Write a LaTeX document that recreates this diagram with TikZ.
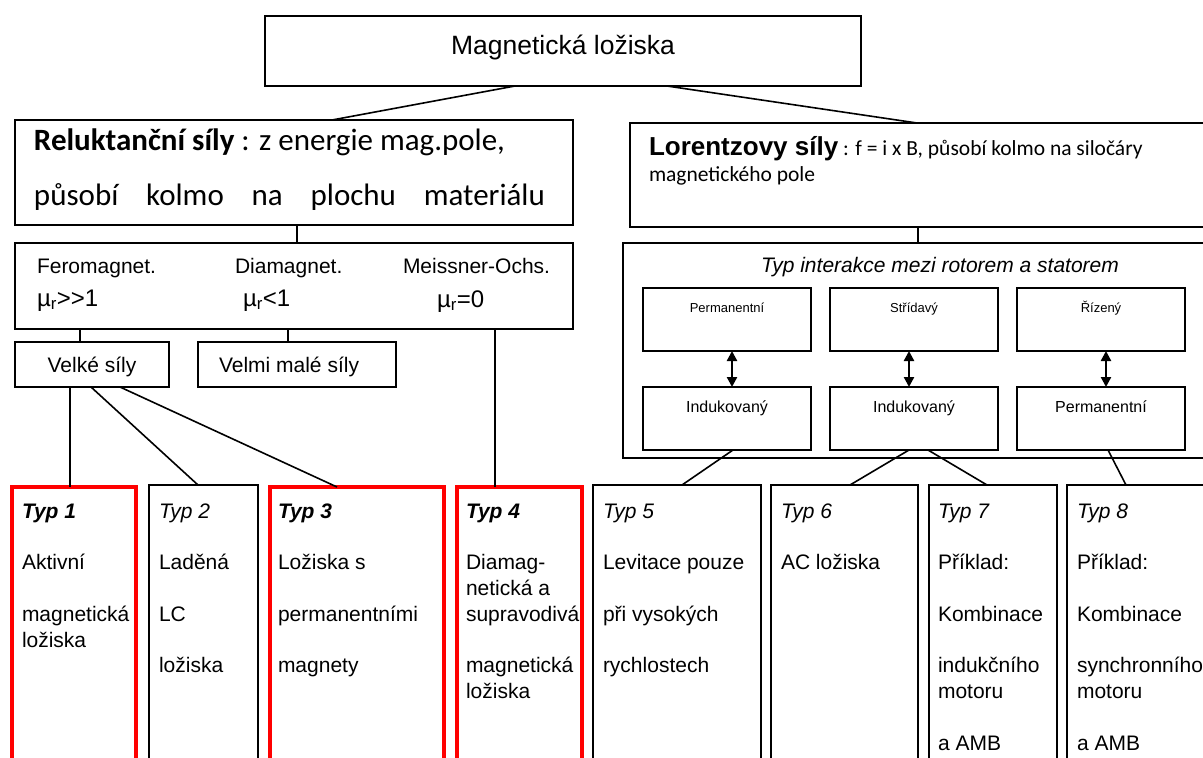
\documentclass[tikz,border=0pt]{standalone}
\usepackage{fontspec}
\setmainfont{Liberation Sans}
\newfontfamily\calibri{Carlito}
\usetikzlibrary{arrows.meta}
\newcommand\fs[2]{\fontsize{#1pt}{#2pt}\selectfont}
\newcommand\topstrut{\rule{0pt}{20pt}}
\begin{document}
\begin{tikzpicture}[x=1pt,y=-1pt,
  box/.style={draw, line width=1.8pt, inner sep=0pt, outer sep=0pt, anchor=north west},
  rbox/.style={box, draw=red, line width=4pt},
  sbox/.style={draw, line width=1.7pt, inner sep=0pt, outer sep=0pt, anchor=north west, minimum width=168pt, minimum height=63pt},
  conn/.style={line width=1.6pt},
  dbl/.style={line width=2.3pt, {Triangle[width=10pt,length=10pt]}-{Triangle[width=10pt,length=10pt]}},
  txt/.style={inner sep=0pt, outer sep=0pt, anchor=base west},
  ctxt/.style={inner sep=0pt, outer sep=0pt, anchor=base},
  col/.style={inner sep=0pt, outer sep=0pt, anchor=north west, align=left, font=\fs{21}{25.8}}
]
\useasboundingbox (0,0) rectangle (1203,758);
\clip (0,0) rectangle (1203,758);
\fill[white] (0,0) rectangle (1203,758);

% top
\node[box, minimum width=596pt, minimum height=70pt] (top) at (265,16) {};
\node[ctxt, font=\fs{26.5}{30}] (toptxt) at (563,54) {Magnetická ložiska};

% reluktancni
\node[box, minimum width=558pt, minimum height=105pt] (rel) at (15,120) {};
\node[txt, font=\calibri\fs{31}{37}] (rel1) at (34,150) {\textbf{Reluktanční síly} : z energie mag.pole,};
\node[txt, font=\calibri\fs{31}{37}] (rel2) at (34,205) {\makebox[511pt][s]{působí kolmo na plochu materiálu}};

% lorentz
\node[box, minimum width=620pt, minimum height=104pt] (lor) at (630,123) {};
\node[txt] (lor1) at (649,155) {{\fs{26}{30}\bfseries Lorentzovy síly}{\calibri\fs{21.5}{25}\ : f = i x B, působí kolmo na siločáry}};
\node[txt, font=\calibri\fs{21.5}{25}] (lor2) at (649,181) {magnetického pole};

% materials
\node[box, minimum width=558pt, minimum height=86pt] (mat) at (15,243) {};
\node[txt, font=\fs{21}{25}] (fe) at (37,273) {Feromagnet.};
\node[txt, font=\fs{24}{28}] (fe2) at (37,306) {µ\textsubscript{r}>\kern0pt>1};
\node[txt, font=\fs{21}{25}] (di) at (235,273) {Diamagnet.};
\node[txt, font=\fs{24}{28}] (di2) at (243,306) {µ\textsubscript{r}<1};
\node[txt, font=\fs{21}{25}] (me) at (403,273) {Meissner-Ochs.};
\node[txt, font=\fs{24}{28}] (me2) at (437,307) {µ\textsubscript{r}=0};

% forces
\node[box, minimum width=154pt, minimum height=45pt] (vel) at (15,342) {};
\node[ctxt, font=\fs{21}{25}] (veltxt) at (92,372) {Velké síly};
\node[box, minimum width=198pt, minimum height=45pt] (vms) at (198,342) {};
\node[txt, font=\fs{21}{25}] (vmstxt) at (219,372) {Velmi malé síly};

% interaction
\node[box, minimum width=620pt, minimum height=215pt] (int) at (623,243) {};
\node[ctxt, font=\fs{21}{25}\itshape] (inttxt) at (940,272) {Typ interakce mezi rotorem a statorem};
\node[sbox] (a1) at (643,288) {};
\node[sbox] (a2) at (830,288) {};
\node[sbox] (a3) at (1017,288) {};
\node[sbox] (b1) at (643,387) {};
\node[sbox] (b2) at (830,387) {};
\node[sbox] (b3) at (1017,387) {};
\node[ctxt, font=\fs{13}{15}] (a1t) at (727,312) {Permanentní};
\node[ctxt, font=\fs{13}{15}] (a2t) at (914,312) {Střídavý};
\node[ctxt, font=\fs{13}{15}] (a3t) at (1101,312) {Řízený};
\node[ctxt, font=\fs{16}{19}] (b1t) at (727,412) {Indukovaný};
\node[ctxt, font=\fs{16}{19}] (b2t) at (914,412) {Indukovaný};
\node[ctxt, font=\fs{16}{19}] (b3t) at (1101,412) {Permanentní};
\draw[dbl] ([xshift=5pt]a1.south) -- ([xshift=5pt]b1.north);
\draw[dbl] ([xshift=-5pt]a2.south) -- ([xshift=-5pt]b2.north);
\draw[dbl] ([xshift=5pt]a3.south) -- ([xshift=5pt]b3.north);

% bottom type boxes
\node[rbox, minimum width=124pt, minimum height=313pt] (t1) at (12,487) {};
\node[box, minimum width=109pt, minimum height=315pt] (t2) at (149,485) {};
\node[rbox, minimum width=174pt, minimum height=313pt] (t3) at (270,487) {};
\node[rbox, minimum width=125pt, minimum height=313pt] (t4) at (457,487) {};
\node[box, minimum width=168pt, minimum height=315pt] (t5) at (593,485) {};
\node[box, minimum width=147pt, minimum height=315pt] (t6) at (771,485) {};
\node[box, minimum width=128pt, minimum height=315pt] (t7) at (929,485) {};
\node[box, minimum width=193pt, minimum height=315pt] (t8) at (1067,485) {};

\node[col] (t1t) at (22,498) {\topstrut\textbf{\textit{Typ 1}}\\[25.8pt]Aktivní\\[25.8pt]magnetická\\ložiska};
\node[col] (t2t) at (159,498) {\topstrut\textit{Typ 2}\\[25.8pt]Laděná\\[25.8pt]LC\\[25.8pt]ložiska};
\node[col] (t3t) at (278,498) {\topstrut\textbf{\textit{Typ 3}}\\[25.8pt]Ložiska s\\[25.8pt]permanentními\\[25.8pt]magnety};
\node[col] (t4t) at (466,498) {\topstrut\textbf{\textit{Typ 4}}\\[25.8pt]Diamag-\\netická a\\supravodivá\\[25.8pt]magnetická\\ložiska};
\node[col] (t5t) at (603,498) {\topstrut\textit{Typ 5}\\[25.8pt]Levitace pouze\\[25.8pt]při vysokých\\[25.8pt]rychlostech};
\node[col] (t6t) at (781,498) {\topstrut\textit{Typ 6}\\[25.8pt]AC ložiska};
\node[col] (t7t) at (938,498) {\topstrut\textit{Typ 7}\\[25.8pt]Příklad:\\[25.8pt]Kombinace\\[25.8pt]indukčního\\motoru\\[25.8pt]a AMB};
\node[col] (t8t) at (1077,498) {\topstrut\textit{Typ 8}\\[25.8pt]Příklad:\\[25.8pt]Kombinace\\[25.8pt]synchronního\\motoru\\[25.8pt]a AMB};

% connectors
\draw[conn] ([xshift=250pt]top.south west) -- ([xshift=317pt]rel.north west);
\draw[conn] ([xshift=402pt]top.south west) -- ([xshift=287pt]lor.north west);
\draw[conn] ([xshift=282pt]rel.south west) -- ([xshift=282pt]mat.north west);
\draw[conn] ([xshift=288pt]lor.south west) -- ([xshift=295pt]int.north west);
\draw[conn] ([xshift=65pt]mat.south west) -- ([xshift=65pt]vel.north west);
\draw[conn] ([xshift=273pt]mat.south west) -- ([xshift=90pt]vms.north west);
\draw[conn] ([xshift=480pt]mat.south west) -- ([xshift=38pt]t4.north west);
\draw[conn] ([xshift=55pt]vel.south west) -- ([xshift=58pt]t1.north west);
\draw[conn] ([xshift=76pt]vel.south west) -- ([xshift=49pt]t2.north west);
\draw[conn] ([xshift=105pt]vel.south west) -- ([xshift=67pt]t3.north west);
\draw[conn] ([xshift=90pt]b1.south west) -- ([xshift=89pt]t5.north west);
\draw[conn] ([xshift=79pt]b2.south west) -- ([xshift=79pt]t6.north west);
\draw[conn] ([xshift=98pt]b2.south west) -- ([xshift=58pt]t7.north west);
\draw[conn] ([xshift=91pt]b3.south west) -- ([xshift=59pt]t8.north west);
\end{tikzpicture}
\end{document}
